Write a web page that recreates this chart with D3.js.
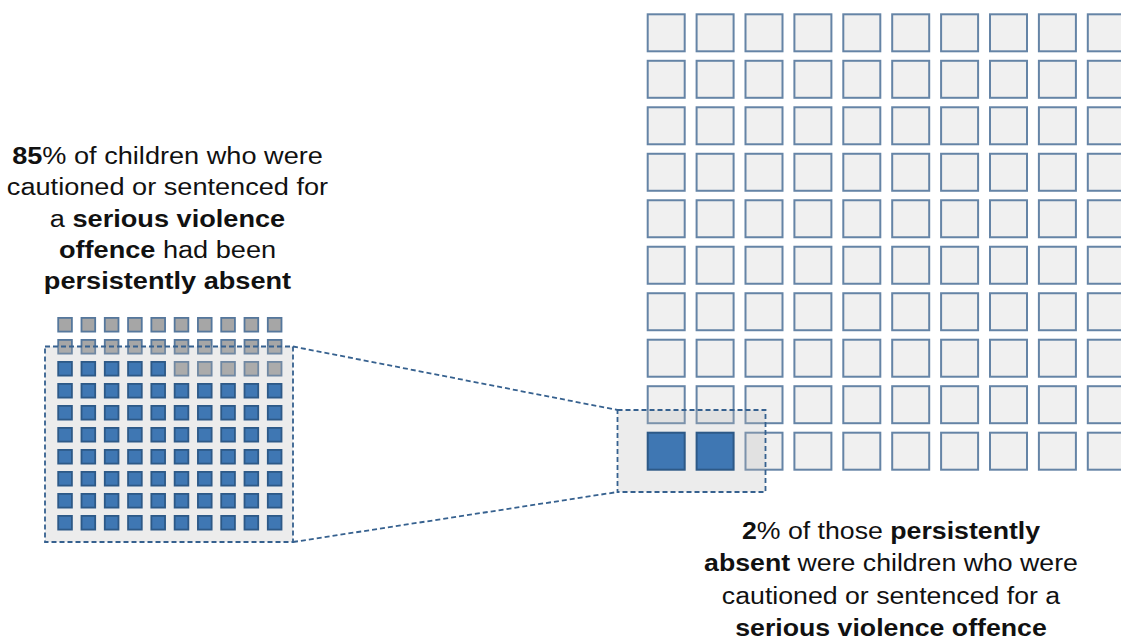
<!DOCTYPE html>
<html>
<head>
<meta charset="utf-8">
<script src="https://cdn.jsdelivr.net/npm/d3@7"></script>
<style>
  html, body { margin: 0; padding: 0; background: #fff; }
  svg { display: block; }
  text { font-family: "Liberation Sans", Arial, sans-serif; fill: #111; }
</style>
</head>
<body>
<svg id="chart" width="1121" height="638"></svg>
<script>
// ---- data ----
const gridSize = 10;                       // 10 x 10 = 100 cells
const leftCategories = ["Persistently absent", "Not persistently absent"];
const leftCounts = [75, 25];               // filled squares as drawn in the small grid
const rightCategories = ["Cautioned or sentenced for serious violence", "Other persistently absent"];
const rightCounts = [2, 98];
const leftTextLines = [
  [["85", true], ["% of children who were", false]],
  [["cautioned or sentenced for", false]],
  [["a ", false], ["serious violence", true]],
  [["offence", true], [" had been", false]],
  [["persistently absent", true]]
];
const rightTextLines = [
  [["2", true], ["% of those ", false], ["persistently", true]],
  [["absent", true], [" were children who were", false]],
  [["cautioned or sentenced for a", false]],
  [["serious violence offence", true]]
];

const svg = d3.select("#chart");

// cells indexed from bottom row upwards, left to right
function cells(counts) {
  return d3.range(gridSize * gridSize).map(i => ({
    i,
    col: i % gridSize,
    row: gridSize - 1 - Math.floor(i / gridSize),
    filled: i < counts[0]
  }));
}

const blueFill = "#3f77b3", blueStroke = "#2d5987";
const dashColor = "#36618f";

// ---- scales ----
const RX = d3.scaleLinear().domain([0, 9]).range([646.7, 1086.8]);
const RY = d3.scaleLinear().domain([0, 9]).range([13.3, 431.7]);
const rSize = 39;
const rightCells = cells(rightCounts);

const LX = d3.scaleLinear().domain([0, 9]).range([57.3, 266.9]);
const LY = d3.scaleLinear().domain([0, 9]).range([317, 515]);
const lSize = 15.5;
const leftCells = cells(leftCounts);

// unfilled cells (below the zoom boxes)
svg.append("g").selectAll("rect").data(rightCells.filter(d => !d.filled)).join("rect")
  .attr("x", d => RX(d.col) + 1).attr("y", d => RY(d.row) + 1)
  .attr("width", rSize - 2).attr("height", rSize - 2)
  .attr("fill", "#f0f0f0").attr("stroke", "#6584a6").attr("stroke-width", 2);

svg.append("g").selectAll("rect").data(leftCells.filter(d => !d.filled)).join("rect")
  .attr("x", d => LX(d.col) + 0.9).attr("y", d => LY(d.row) + 0.9)
  .attr("width", lSize - 1.8).attr("height", lSize - 1.8)
  .attr("fill", "#a6a6a6").attr("stroke", "#55779c").attr("stroke-width", 1.8);

// ---- zoom boxes ----
const leftBox = { x0: 45, y0: 346.5, x1: 293, y1: 542 };
const rightBox = { x0: 617.5, y0: 410, x1: 765.5, y1: 492 };

[leftBox, rightBox].forEach(b => {
  svg.append("rect")
    .attr("x", b.x0).attr("y", b.y0)
    .attr("width", b.x1 - b.x0).attr("height", b.y1 - b.y0)
    .attr("fill", "rgb(185,185,185)").attr("fill-opacity", 0.27)
    .attr("stroke", dashColor).attr("stroke-width", 1.8)
    .attr("stroke-dasharray", "5,3");
});

// filled cells above the boxes
svg.append("g").selectAll("rect").data(rightCells.filter(d => d.filled)).join("rect")
  .attr("x", d => RX(d.col) + 1).attr("y", d => RY(d.row) + 1)
  .attr("width", rSize - 2).attr("height", rSize - 2)
  .attr("fill", blueFill).attr("stroke", blueStroke).attr("stroke-width", 2);

svg.append("g").selectAll("rect").data(leftCells.filter(d => d.filled)).join("rect")
  .attr("x", d => LX(d.col) + 0.9).attr("y", d => LY(d.row) + 0.9)
  .attr("width", lSize - 1.8).attr("height", lSize - 1.8)
  .attr("fill", blueFill).attr("stroke", blueStroke).attr("stroke-width", 1.8);

// connector lines
const line = d3.line();
[[[leftBox.x1, leftBox.y0], [rightBox.x0, rightBox.y0]],
 [[leftBox.x1, leftBox.y1], [rightBox.x0, rightBox.y1]]].forEach(pts => {
  svg.append("path").attr("d", line(pts))
    .attr("fill", "none").attr("stroke", dashColor)
    .attr("stroke-width", 1.8).attr("stroke-dasharray", "5,3");
});

// ---- text ----
function block(lines, cx, y0, dy, sx) {
  const g = svg.append("g").attr("transform", `translate(${cx},0) scale(${sx},1)`);
  const t = g.append("text").attr("text-anchor", "middle").attr("font-size", 24.5);
  lines.forEach((segs, li) => {
    segs.forEach((s, si) => {
      const ts = t.append("tspan").text(s[0])
        .attr("font-weight", s[1] ? "bold" : "normal");
      if (si === 0) ts.attr("x", 0).attr("y", y0 + li * dy);
    });
  });
}
block(leftTextLines, 167.5, 164, 31.3, 1.108);
block(rightTextLines, 891, 539, 32.4, 1.09);
</script>
</body>
</html>
